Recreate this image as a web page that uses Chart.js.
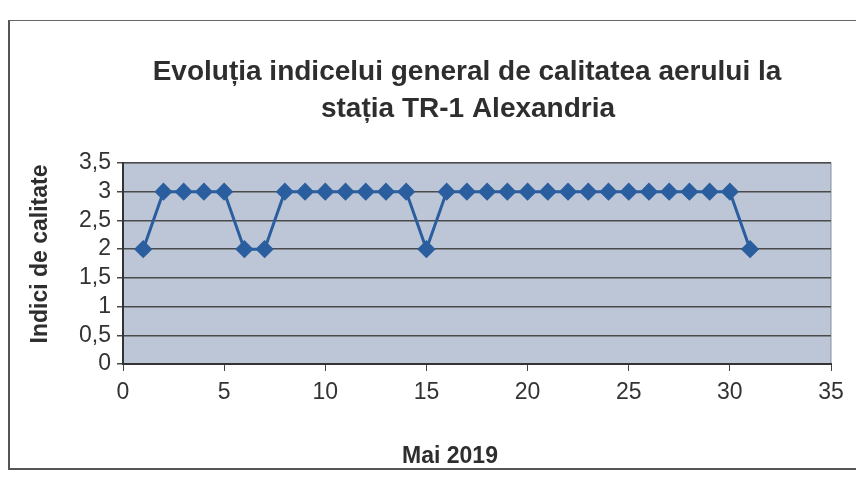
<!DOCTYPE html>
<html>
<head>
<meta charset="utf-8">
<script src="https://cdn.jsdelivr.net/npm/chart.js@4/dist/chart.umd.min.js"></script>
<style>
  body { margin: 0; background: #fff; }
  #wrap { position: relative; width: 856px; height: 478px; }
  #frame { position: absolute; left: 8px; top: 20px; width: 860px; height: 447px;
           border-left: 2px solid #555; border-top: 1px solid #666; border-bottom: 2px solid #555; }
  canvas { position: absolute; left: 0; top: 0; }
</style>
</head>
<body>
<div id="wrap">
  <div id="frame"></div>
  <canvas id="airChart" width="856" height="478"></canvas>
</div>
<script>
// zilele lunii mai 2019
const days = [1, 2, 3, 4, 5, 6, 7, 8, 9, 10, 11, 12, 13, 14, 15, 16,
              17, 18, 19, 20, 21, 22, 23, 24, 25, 26, 27, 28, 29, 30, 31];
// indicele general de calitate a aerului
const indexValues = [2, 3, 3, 3, 3, 2, 2, 3, 3, 3, 3, 3, 3, 3, 2, 3,
                     3, 3, 3, 3, 3, 3, 3, 3, 3, 3, 3, 3, 3, 3, 2];
const xTicks = [0, 5, 10, 15, 20, 25, 30, 35];
const yTicks = [0, 0.5, 1, 1.5, 2, 2.5, 3, 3.5];

const chartTitle = ['Evoluția indicelui general de calitatea aerului la', 'stația TR-1 Alexandria'];
const xTitle = 'Mai 2019';
const yTitle = 'Indici de calitate';

const FONT = '"Liberation Sans", Arial, sans-serif';

// fundalul zonei de desen + titlurile
const decorPlugin = {
    id: 'decor',
    beforeDraw(chart) {
        const { ctx, chartArea: a } = chart;
        ctx.save();
        ctx.fillStyle = '#bdc6d7';
        ctx.fillRect(a.left, a.top, a.right - a.left, a.bottom - a.top);
        ctx.strokeStyle = '#8a8f99';
        ctx.lineWidth = 1;
        ctx.strokeRect(a.left, a.top, a.right - a.left, a.bottom - a.top);
        ctx.restore();
    },
    afterDraw(chart) {
        const ctx = chart.ctx;
        ctx.save();
        ctx.fillStyle = '#2e2e2e';
        ctx.textAlign = 'center';
        ctx.textBaseline = 'middle';
        ctx.font = 'bold 28px ' + FONT;
        ctx.fillText(chartTitle[0], 467, 72);
        ctx.fillText(chartTitle[1], 468, 109);
        ctx.font = 'bold 23px ' + FONT;
        ctx.fillText(xTitle, 450, 457);
        ctx.translate(41, 254);
        ctx.rotate(-Math.PI / 2);
        ctx.fillText(yTitle, 0, 0);
        ctx.restore();
    }
};

new Chart(document.getElementById('airChart'), {
    type: 'line',
    data: {
        datasets: [{
            label: 'Indice',
            data: days.map((d, i) => ({ x: d, y: indexValues[i] })),
            borderColor: '#2b5e9e',
            backgroundColor: '#2b5e9e',
            borderWidth: 3,
            pointStyle: 'rectRot',
            pointRadius: 7,
            pointHoverRadius: 7,
            tension: 0,
            fill: false
        }]
    },
    options: {
        responsive: false,
        animation: false,
        layout: { padding: { left: 0, right: 25, top: 163, bottom: 0 } },
        plugins: {
            legend: { display: false },
            title: { display: false },
            tooltip: { enabled: false }
        },
        scales: {
            x: {
                type: 'linear',
                min: 0,
                max: 35,
                afterBuildTicks: s => { s.ticks = xTicks.map(v => ({ value: v })); },
                afterFit: s => { s.height = 114; },
                grid: { drawOnChartArea: false, drawTicks: true, tickLength: 7, color: '#444' },
                border: { color: '#333', width: 2 },
                ticks: { autoSkip: false, maxRotation: 0, padding: 8, color: '#333', font: { family: FONT, size: 23 } }
            },
            y: {
                min: 0,
                max: 3.5,
                afterBuildTicks: s => { s.ticks = yTicks.map(v => ({ value: v })); },
                afterFit: s => { s.width = 123; },
                grid: { color: '#4a4a4a', lineWidth: 1.5, tickLength: 6 },
                border: { color: '#333', width: 2 },
                ticks: {
                    autoSkip: false,
                    padding: 6,
                    color: '#333',
                    font: { family: FONT, size: 23 },
                    callback: v => String(v).replace('.', ',')
                }
            }
        }
    },
    plugins: [decorPlugin]
});
</script>
</body>
</html>
